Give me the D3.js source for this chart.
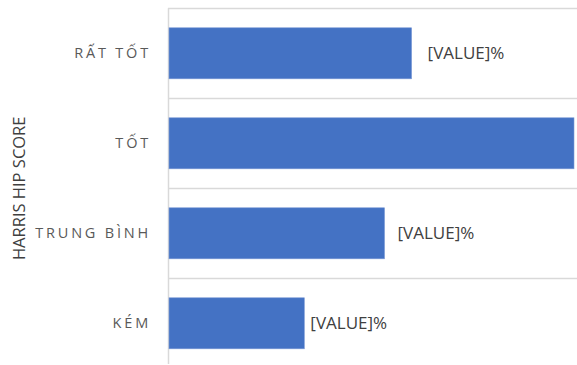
<!DOCTYPE html>
<html><head><meta charset="utf-8">
<script src="https://cdn.jsdelivr.net/npm/d3@7"></script>
<style>body{margin:0;background:#fff}svg{display:block}</style>
</head><body>
<script>
const categories = ["RẤT TỐT", "TỐT", "TRUNG BÌNH", "KÉM"];
const values = [24.3, 40.5, 21.6, 13.6];
const valueLabels = ["[VALUE]%", "[VALUE]%", "[VALUE]%", "[VALUE]%"];
const axisTitle = "HARRIS HIP SCORE";

const W = 577, H = 365;
const svg = d3.select("body").append("svg").attr("width", W).attr("height", H);
const x0 = 168, x1 = 574, yTop = 8.3, band = 90;
const x = d3.scaleLinear().domain([0, 40.5]).range([x0, x1]);
const y = d3.scaleBand().domain(categories).range([yTop, yTop + band * categories.length]).paddingInner(0.433).paddingOuter(0.2165);
// gap between bar end and its label, as placed in the original
const labelGap = [16, 16, 13, 6];

// gridlines (category boundaries)
const bounds = categories.map((c, i) => yTop + i * band);
svg.append("g").selectAll("line").data(bounds).join("line")
  .attr("x1", x0).attr("x2", W).attr("y1", d => Math.round(d) + 0.5).attr("y2", d => Math.round(d) + 0.5)
  .attr("stroke", "#D9D9D9").attr("stroke-width", 1.5);
// axis line
svg.append("line").attr("x1", x0 + 0.5).attr("x2", x0 + 0.5).attr("y1", yTop).attr("y2", 364)
  .attr("stroke", "#D9D9D9").attr("stroke-width", 1.5);

// bars
svg.append("g").selectAll("rect").data(categories).join("rect")
  .attr("x", x(0) + 1).attr("y", d => y(d))
  .attr("width", (d, i) => x(values[i]) - x(0) - 1).attr("height", y.bandwidth())
  .attr("fill", "#4472C4").attr("stroke", "#7D9BD6").attr("stroke-width", 0.6);

// value labels (labels that fall beyond the chart's right edge are cut off, as in the original)
const labelled = categories.map((c, i) => ({c, i})).filter(d => x(values[d.i]) + labelGap[d.i] < W - 40);
svg.append("g").selectAll("text").data(labelled).join("text")
  .attr("x", d => x(values[d.i]) + labelGap[d.i]).attr("y", d => y(d.c) + y.bandwidth() / 2)
  .attr("dy", "0.35em").attr("fill", "#404040")
  .style("font-family", "'Open Sans', sans-serif").style("font-size", "17px")
  .text(d => valueLabels[d.i]);

// category labels
svg.append("g").selectAll("text").data(categories).join("text")
  .attr("x", 151).attr("y", d => y(d) + y.bandwidth() / 2)
  .attr("dy", "0.35em").attr("text-anchor", "end").attr("fill", "#595959")
  .style("font-family", "'Open Sans', sans-serif").style("font-size", "14.5px")
  .style("letter-spacing", "2.8px")
  .text(d => d);

// axis title
svg.append("text").attr("transform", `translate(25,${yTop + band * 2}) rotate(-90)`)
  .attr("text-anchor", "middle").attr("fill", "#404040")
  .style("font-family", "'Open Sans', sans-serif").style("font-size", "16.5px")
  .text(axisTitle);
</script>
</body></html>
